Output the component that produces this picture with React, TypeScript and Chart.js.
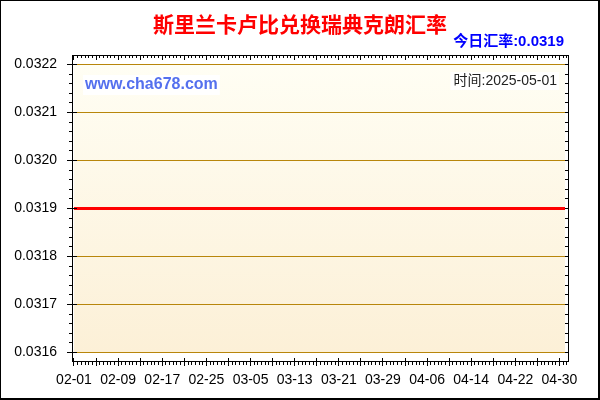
import React, { useEffect, useRef } from "react";
import { Chart, registerables } from "chart.js";

Chart.register(...registerables);

const TITLE = "斯里兰卡卢比兑换瑞典克朗汇率";
const TODAY_TEXT = "今日汇率:0.0319";
const SITE_TEXT = "www.cha678.com";
const TIME_TEXT = "时间:2025-05-01";

// daily rates, 2025-02-01 .. 2025-05-01 (day index 0..89)
const RATES: number[] = [
  0.0319, 0.0319, 0.0319, 0.0319, 0.0319, 0.0319, 0.0319, 0.0319, 0.0319, 0.0319,
  0.0319, 0.0319, 0.0319, 0.0319, 0.0319, 0.0319, 0.0319, 0.0319, 0.0319, 0.0319,
  0.0319, 0.0319, 0.0319, 0.0319, 0.0319, 0.0319, 0.0319, 0.0319, 0.0319, 0.0319,
  0.0319, 0.0319, 0.0319, 0.0319, 0.0319, 0.0319, 0.0319, 0.0319, 0.0319, 0.0319,
  0.0319, 0.0319, 0.0319, 0.0319, 0.0319, 0.0319, 0.0319, 0.0319, 0.0319, 0.0319,
  0.0319, 0.0319, 0.0319, 0.0319, 0.0319, 0.0319, 0.0319, 0.0319, 0.0319, 0.0319,
  0.0319, 0.0319, 0.0319, 0.0319, 0.0319, 0.0319, 0.0319, 0.0319, 0.0319, 0.0319,
  0.0319, 0.0319, 0.0319, 0.0319, 0.0319, 0.0319, 0.0319, 0.0319, 0.0319, 0.0319,
  0.0319, 0.0319, 0.0319, 0.0319, 0.0319, 0.0319, 0.0319, 0.0319, 0.0319, 0.0319,
];

const X_TICK_DAYS = [0, 8, 16, 24, 32, 40, 48, 56, 64, 72, 80, 88];
const X_TICK_LABELS = [
  "02-01", "02-09", "02-17", "02-25", "03-05", "03-13",
  "03-21", "03-29", "04-06", "04-14", "04-22", "04-30",
];
const Y_TICKS = [0.0316, 0.0317, 0.0318, 0.0319, 0.032, 0.0321, 0.0322];

const LATIN = "'Liberation Sans', Arial, 'Noto Sans CJK SC', sans-serif";

const framePlugin = {
  id: "frameDecor",
  beforeDraw(chart: any) {
    const { ctx } = chart;
    const xs = chart.scales.x;
    const ys = chart.scales.y;
    ctx.save();
    ctx.fillStyle = "#000";
    ctx.fillRect(0, 0, 600, 400);
    ctx.fillStyle = "#fff";
    ctx.fillRect(1, 1, 597, 397);

    const x0 = xs.getPixelForValue(0);
    const x1 = xs.getPixelForValue(RATES.length - 1);
    const yTop = Math.floor(ys.getPixelForValue(Y_TICKS[Y_TICKS.length - 1]));
    const yBot = Math.floor(ys.getPixelForValue(Y_TICKS[0]));
    const g = ctx.createLinearGradient(0, yTop, 0, yBot);
    g.addColorStop(0, "#fffef4");
    g.addColorStop(1, "#fcf0d7");
    ctx.fillStyle = g;
    ctx.fillRect(x0, yTop, x1 - x0, yBot - yTop);

    ctx.strokeStyle = "#b8860b";
    ctx.lineWidth = 1;
    for (const v of Y_TICKS) {
      const y = Math.floor(ys.getPixelForValue(v)) + 0.5;
      ctx.beginPath();
      ctx.moveTo(x0, y);
      ctx.lineTo(x1, y);
      ctx.stroke();
    }
    ctx.restore();
  },
  afterDraw(chart: any) {
    const { ctx, chartArea } = chart;
    const xs = chart.scales.x;
    const ys = chart.scales.y;
    const L = chartArea.left - 1;
    const R = chartArea.right;
    const T = chartArea.top;
    const B = chartArea.bottom - 1;
    ctx.save();
    ctx.strokeStyle = "#000";
    ctx.lineWidth = 1;
    const line = (ax: number, ay: number, bx: number, by: number) => {
      ctx.beginPath();
      ctx.moveTo(ax, ay);
      ctx.lineTo(bx, by);
      ctx.stroke();
    };
    // frame
    line(L + 0.5, T, L + 0.5, B + 1);
    line(R + 0.5, T, R + 0.5, B + 1);
    line(L, T + 0.5, R + 1, T + 0.5);
    line(L, B + 0.5, R + 1, B + 0.5);

    // x ticks every 2/3 day, major every 4 days
    const maxDay = xs.max;
    for (let k = 0; k * (2 / 3) <= maxDay + 1e-9; k++) {
      const d = k * (2 / 3);
      const px = Math.floor(xs.getPixelForValue(d)) + 0.5;
      if (px > R) break;
      const major = k % 6 === 0;
      if (major) {
        line(px, B - 3, px, B + 5);
        line(px, T + 1, px, T + 5);
      } else {
        line(px, B + 1, px, B + 4);
        line(px, T + 1, px, T + 3);
      }
    }
    // y ticks every 0.00002, major every 0.0001
    for (let k = 0; k <= 30; k++) {
      const v = 0.0316 + k * 0.00002;
      const py = Math.floor(ys.getPixelForValue(v)) + 0.5;
      if (k % 5 === 0) {
        line(L - 5, py, L + 5, py);
      } else {
        line(L - 3, py, L, py);
      }
      line(R - 3, py, R, py);
    }

    // title
    ctx.textAlign = "center";
    ctx.textBaseline = "middle";
    ctx.fillStyle = "#ff0000";
    ctx.font = "bold 21px 'Noto Sans CJK SC', sans-serif";
    ctx.fillText(TITLE, 300, 24);

    // today rate
    ctx.textAlign = "right";
    ctx.fillStyle = "#0000ff";
    ctx.font = "bold 15px " + LATIN;
    ctx.fillText(TODAY_TEXT, 564, 42);

    // site box
    ctx.font = "bold 16px " + LATIN;
    const sw = ctx.measureText(SITE_TEXT).width;
    ctx.fillStyle = "#fff";
    ctx.fillRect(83, 75, sw + 4, 20);
    ctx.fillStyle = "#5470ee";
    ctx.textAlign = "left";
    ctx.fillText(SITE_TEXT, 85, 85);

    // time box
    ctx.font = "14px " + LATIN;
    const tw = ctx.measureText(TIME_TEXT).width;
    ctx.fillStyle = "#fff";
    ctx.fillRect(557 - tw - 3, 72, tw + 5, 18);
    ctx.fillStyle = "#222";
    ctx.textAlign = "right";
    ctx.fillText(TIME_TEXT, 557, 81);

    ctx.restore();
  },
};

export default function App() {
  const ref = useRef<HTMLCanvasElement | null>(null);

  useEffect(() => {
    if (!ref.current) return;
    const chart = new Chart(ref.current, {
      type: "line",
      data: {
        datasets: [
          {
            data: RATES.map((v, i) => ({ x: i, y: v })),
            borderColor: "#ff0000",
            borderWidth: 3,
            pointRadius: 0,
            tension: 0,
            fill: false,
          },
        ],
      },
      options: {
        animation: false,
        responsive: false,
        devicePixelRatio: 1,
        events: [],
        layout: { padding: { top: 55, left: 0, right: 32, bottom: 0 } },
        plugins: {
          legend: { display: false },
          tooltip: { enabled: false },
          title: { display: false },
        },
        scales: {
          x: {
            type: "linear",
            min: -0.18126,
            max: 89.5433,
            grid: { display: false, drawTicks: false },
            border: { display: false },
            afterFit: (s: any) => {
              s.height = 38;
            },
            afterBuildTicks: (s: any) => {
              s.ticks = X_TICK_DAYS.map((v) => ({ value: v }));
            },
            ticks: {
              autoSkip: false,
              maxRotation: 0,
              padding: 10,
              color: "#000",
              font: { size: 14, family: LATIN },
              callback: (v: any) => {
                const i = X_TICK_DAYS.indexOf(Number(v));
                return i >= 0 ? X_TICK_LABELS[i] : "";
              },
            },
          },
          y: {
            type: "linear",
            min: 0.03158021,
            max: 0.03221979,
            grid: { display: false, drawTicks: false },
            border: { display: false },
            afterFit: (s: any) => {
              s.width = 73;
            },
            afterBuildTicks: (s: any) => {
              s.ticks = Y_TICKS.map((v) => ({ value: v }));
            },
            ticks: {
              padding: 16,
              color: "#000",
              font: { size: 14, family: LATIN },
              callback: (v: any) => Number(v).toFixed(4),
            },
          },
        },
      },
      plugins: [framePlugin],
    });
    return () => chart.destroy();
  }, []);

  return (
    <div style={{ position: "fixed", left: 0, top: 0, width: 600, height: 400 }}>
      <canvas ref={ref} width={600} height={400} style={{ display: "block", width: 600, height: 400 }} />
    </div>
  );
}
